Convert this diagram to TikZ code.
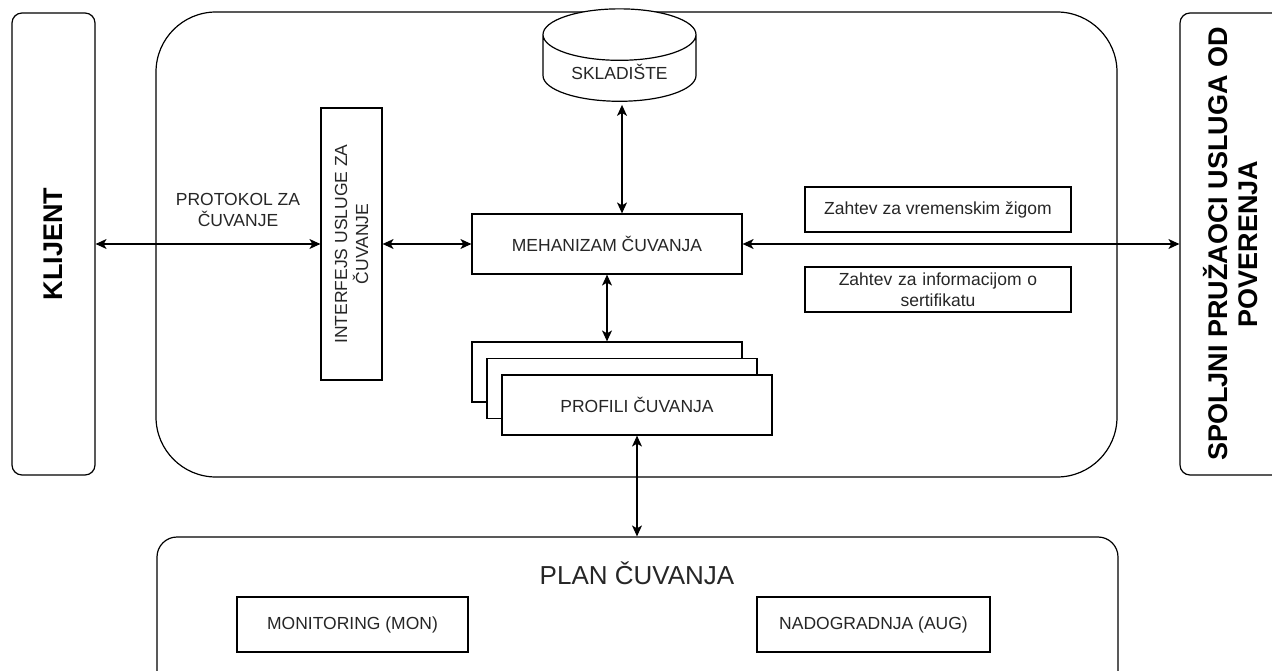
\documentclass[tikz,border=0pt]{standalone}
\usepackage{fontspec}
\setmainfont{Liberation Sans}
\usetikzlibrary{shapes,shapes.geometric,arrows.meta,positioning,calc}

\begin{document}
\begin{tikzpicture}[
    x=1pt, y=-1pt,
    font=\fontsize{17.5}{21}\selectfont,
    box/.style={rectangle, draw, fill=white, line width=1.2pt, text=black!85, align=center},
    panel/.style={rectangle, draw, line width=1.2pt, rounded corners=#1},
    arrow/.style={<->, >={Stealth[length=11pt,width=10pt,inset=3pt]}, line width=1.2pt},
    sidetitle/.style={rotate=90, align=center, font=\fontsize{27}{30}\selectfont\bfseries}
]
\useasboundingbox (0,0) rectangle (1272,671);

% Frames
\node[panel=10pt, minimum width=83pt, minimum height=462pt] (klijent) at (53.5,244) {};
\node[sidetitle] at (klijent) {KLIJENT};

\node[panel=60pt, minimum width=961pt, minimum height=465pt] (jezgro) at (636.5,244.5) {};

\node[panel=10pt, minimum width=102pt, minimum height=462pt] (spoljni) at (1231,244) {};
\node[sidetitle] at (spoljni) {SPOLJNI PRUŽAOCI USLUGA OD\\POVERENJA};

\node[panel=20pt, minimum width=961pt, minimum height=155pt] (plan) at (637.5,614.5) {};
\node[text=black!85] at (637,573) {\fontsize{26}{30}\selectfont PLAN ČUVANJA};

% Core components
\node[cylinder, shape border rotate=90, draw, fill=white, line width=1.2pt, aspect=0.5,
      minimum width=153pt, minimum height=85pt, text=black!85] (skladiste) at (619.5,72) {SKLADIŠTE};
\node[box, minimum width=270pt, minimum height=60pt] (mehanizam) at (607,244) {MEHANIZAM ČUVANJA};
\node[box, minimum width=61pt, minimum height=272pt] (interfejs) at (351.5,244) {};
\node[rotate=90, align=center, text=black!85] at (interfejs) {INTERFEJS USLUGE ZA\\ČUVANJE};
\node[align=center, text=black!85] (protokol) at (238,210) {PROTOKOL ZA\\ČUVANJE};

% Profiles stack
\node[box, minimum width=270pt, minimum height=60pt] (profil3) at (607,372) {};
\node[box, minimum width=270pt, minimum height=60pt] (profil2) at (622,388.5) {};
\node[box, minimum width=270pt, minimum height=60pt] (profil1) at (637,405) {PROFILI ČUVANJA};

% Requests
\node[box, minimum width=266pt, minimum height=45pt] (zigom) at (938,209.5) {Zahtev za vremenskim žigom};
\node[box, minimum width=266pt, minimum height=45pt, text width=250pt] (sertifikat) at (938,289.5) {Zahtev za informacijom o\\sertifikatu};

% Plan components
\node[box, minimum width=231pt, minimum height=55pt] (mon) at (352.5,624.5) {MONITORING (MON)};
\node[box, minimum width=233pt, minimum height=55pt] (aug) at (873.5,624.5) {NADOGRADNJA (AUG)};

% Arrows
\draw[arrow] (klijent) -- (interfejs);
\draw[arrow] (interfejs) -- (mehanizam);
\draw[arrow] (mehanizam) -- (spoljni);
\draw[arrow, shorten <=3pt] ([xshift=2.5pt]skladiste.bottom) -- ([xshift=2.5pt]skladiste.bottom |- mehanizam.north);
\draw[arrow] (mehanizam) -- (profil3);
\draw[arrow] (profil1) -- (profil1 |- plan.north);

\end{tikzpicture}
\end{document}
